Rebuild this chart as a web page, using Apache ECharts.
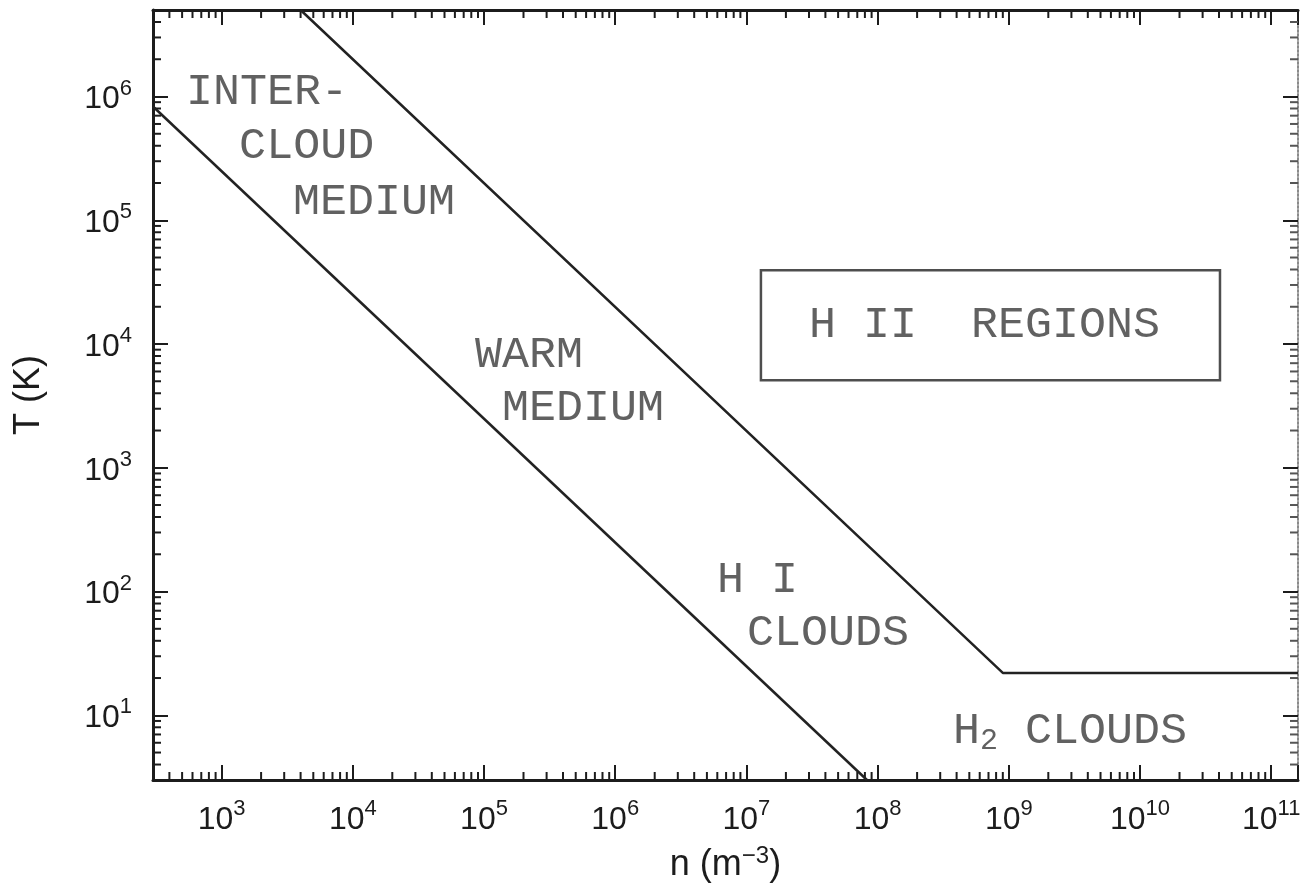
<!DOCTYPE html>
<html>
<head>
<meta charset="utf-8">
<script src="https://cdn.jsdelivr.net/npm/echarts@6/dist/echarts.min.js"></script>
<style>
  html, body { margin: 0; padding: 0; background: #fff; }
  #chart { width: 1301px; height: 890px; }
</style>
</head>
<body>
<div id="chart"></div>
<script>
// Axis extents: number density n (m^-3) and temperature T (K)
const nRange = [300, 1.6e11];
const tRange = [3, 5e6];

// Lower phase boundary (constant nT)
const lowerBoundary = [[300, 8.3e5], [8.3e7, 3]];
// Upper phase boundary (constant nT, then flat at the molecular-cloud temperature)
const upperBoundary = [[4e3, 5e6], [9e8, 22], [1.6e11, 22]];

// Region names, each line anchored at (n, T) on its left edge
const regionNames = ['INTER-', 'CLOUD', 'MEDIUM', 'WARM', 'MEDIUM', 'H I', 'CLOUDS', 'H{sub|2} CLOUDS'];
const regionAnchors = [[535, 1.09e6], [1360, 3.94e5], [3500, 1.41e5], [8.54e4, 8.11e3],
                       [1.37e5, 3.03e3], [5.97e6, 123], [1.01e7, 46], [3.75e8, 7.43]];
// Boxed region name
const boxedName = 'H II  REGIONS';
const boxedAnchor = [1.29e7, 1.42e4];

// Minor tick values (2..9 x 10^k) inside each axis range
function minorTicks(range) {
  const out = [];
  const lo = Math.floor(Math.log10(range[0]));
  const hi = Math.ceil(Math.log10(range[1]));
  for (let e = lo; e <= hi; e++) {
    for (let k = 2; k <= 9; k++) {
      const v = k * Math.pow(10, e);
      if (v > range[0] && v < range[1]) out.push(v);
    }
  }
  return out;
}

const LABEL_FONT = '"Liberation Sans", Arial, Helvetica, sans-serif';
const NOTE_FONT = '"Courier New", "Liberation Mono", monospace';
const INK = '#1c1c1c';
const NOTE_INK = '#3a3a3a';

function powerLabel(v) {
  const e = Math.round(Math.log10(v));
  if (Math.abs(Math.log10(v) - e) > 1e-6) return '';
  return '{b|10}{s|' + e + '}';
}
const powerRich = {
  b: { fontSize: 32, fontFamily: LABEL_FONT, color: INK, lineHeight: 38, verticalAlign: 'bottom' },
  s: { fontSize: 22, fontFamily: LABEL_FONT, color: INK, lineHeight: 16, verticalAlign: 'top' }
};

function logAxis(extra, range) {
  return Object.assign({
    type: 'log',
    logBase: 10,
    min: range[0],
    max: range[1],
    splitNumber: 10,
    splitLine: { show: false },
    axisLine: { show: true, onZero: false, lineStyle: { color: INK, width: 3 } },
    axisTick: { show: true, inside: true, length: 15, lineStyle: { color: INK, width: 2 } },
    axisLabel: { show: false }
  }, extra);
}

const chart = echarts.init(document.getElementById('chart'), null, { renderer: 'canvas' });

const option = {
  animation: false,
  backgroundColor: '#ffffff',
  grid: { left: 153, right: 3, top: 10, bottom: 110, containLabel: false, outerBoundsMode: 'none' },
  xAxis: [
    logAxis({
      position: 'bottom',
      name: 'n (m{s|\u22123})',
      nameLocation: 'middle',
      nameGap: 64,
      nameTextStyle: {
        fontSize: 36, fontFamily: LABEL_FONT, color: INK, lineHeight: 42, verticalAlign: 'top',
        rich: {
          s: { fontSize: 24, fontFamily: LABEL_FONT, color: INK, lineHeight: 16, verticalAlign: 'top' }
        }
      },
      axisLabel: { show: true, margin: 18, formatter: powerLabel, rich: powerRich, showMinLabel: true, showMaxLabel: true, hideOverlap: false }
    }, nRange),
    logAxis({ position: 'top' }, nRange)
  ],
  yAxis: [
    logAxis({
      position: 'left',
      name: 'T (K)',
      nameLocation: 'middle',
      nameGap: 106,
      nameTextStyle: { fontSize: 36, fontFamily: LABEL_FONT, color: INK },
      axisLabel: { show: true, margin: 21, formatter: powerLabel, rich: powerRich, showMinLabel: true, showMaxLabel: true, hideOverlap: false }
    }, tRange),
    logAxis({
      position: 'right',
      axisLine: { show: true, onZero: false, lineStyle: { color: '#8a8a8a', width: 2, type: 'dotted' } }
    }, tRange)
  ],
  series: [
    {
      // minor ticks along bottom and top
      type: 'custom',
      silent: true,
      clip: false,
      xAxisIndex: 0, yAxisIndex: 0,
      data: minorTicks(nRange).map(v => [v, tRange[0]]),
      renderItem: function (params, api) {
        const cs = params.coordSys;
        const x = api.coord([api.value(0), api.value(1)])[0];
        const st = { stroke: INK, lineWidth: 2 };
        return {
          type: 'group',
          children: [
            { type: 'line', shape: { x1: x, y1: cs.y + cs.height, x2: x, y2: cs.y + cs.height - 8 }, style: st },
            { type: 'line', shape: { x1: x, y1: cs.y, x2: x, y2: cs.y + 8 }, style: st }
          ]
        };
      }
    },
    {
      // minor ticks along left and right
      type: 'custom',
      silent: true,
      clip: false,
      xAxisIndex: 0, yAxisIndex: 0,
      data: minorTicks(tRange).map(v => [nRange[0], v]),
      renderItem: function (params, api) {
        const cs = params.coordSys;
        const y = api.coord([api.value(0), api.value(1)])[1];
        return {
          type: 'group',
          children: [
            { type: 'line', shape: { x1: cs.x, y1: y, x2: cs.x + 8, y2: y }, style: { stroke: INK, lineWidth: 2 } },
            { type: 'line', shape: { x1: cs.x + cs.width, y1: y, x2: cs.x + cs.width - 8, y2: y }, style: { stroke: '#555', lineWidth: 2 } }
          ]
        };
      }
    },
    {
      type: 'line',
      data: lowerBoundary,
      symbol: 'none',
      silent: true,
      lineStyle: { color: '#222', width: 2.5 }
    },
    {
      type: 'line',
      data: upperBoundary,
      symbol: 'none',
      silent: true,
      lineStyle: { color: '#222', width: 2.5 }
    },
    {
      type: 'scatter',
      silent: true,
      symbolSize: 1,
      itemStyle: { color: 'transparent' },
      data: regionNames.map((t, i) => ({ name: t, value: regionAnchors[i] })),
      label: {
        show: true,
        position: 'inside',
        align: 'left',
        verticalAlign: 'middle',
        formatter: p => p.name,
        fontSize: 45,
        lineHeight: 50,
        fontFamily: NOTE_FONT,
        color: NOTE_INK,
        rich: {
          sub: { fontSize: 30, fontFamily: NOTE_FONT, color: NOTE_INK, lineHeight: 20, verticalAlign: 'bottom' }
        }
      }
    },
    {
      type: 'scatter',
      silent: true,
      symbolSize: 1,
      itemStyle: { color: 'transparent' },
      data: [{ name: boxedName, value: boxedAnchor }],
      label: {
        show: true,
        position: 'inside',
        align: 'left',
        verticalAlign: 'middle',
        formatter: p => p.name,
        fontSize: 45,
        lineHeight: 50,
        fontFamily: NOTE_FONT,
        color: NOTE_INK,
        borderColor: '#222',
        borderWidth: 2.5,
        padding: [39, 60, 21, 48]
      }
    }
  ]
};

chart.setOption(option);
</script>
</body>
</html>
